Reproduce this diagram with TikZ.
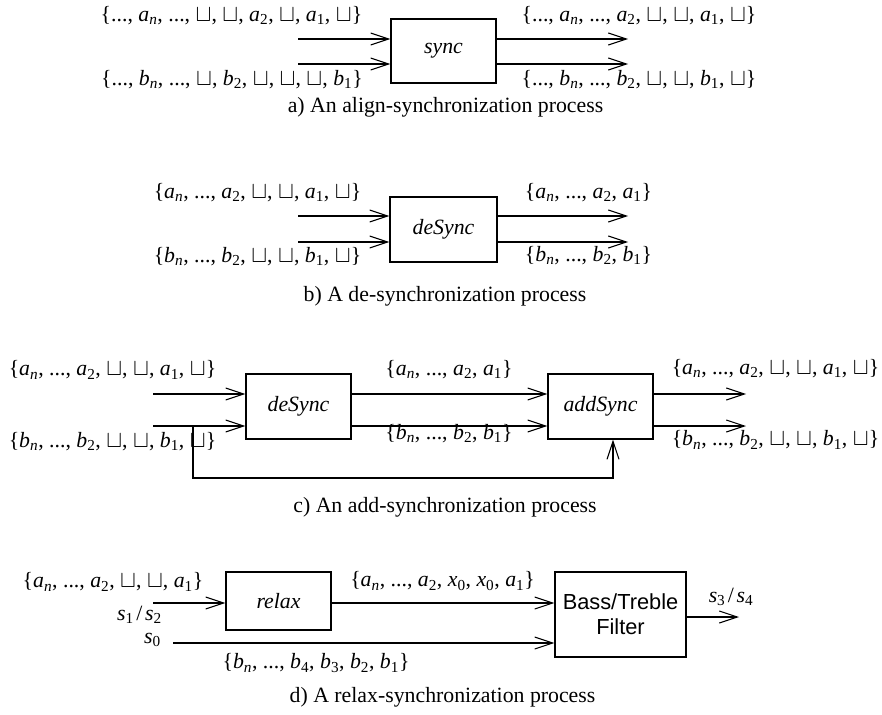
\documentclass[tikz,border=0pt]{standalone}
\usepackage{fontspec}
\setmainfont{Liberation Serif}
\newfontfamily\sansf{Liberation Sans}
\usetikzlibrary{arrows.meta}

% variable with subscript, comma with thin space, empty slot, slash
\newcommand\vv[2]{\textit{#1}\textsubscript{#2}}
\newcommand\vn[1]{\textit{#1}\textsubscript{\textit{n}}}
\newcommand\cc{,\kern0.25em}
\newcommand\sq{\scalebox{1.15}{$\sqcup$}}
\newcommand\slsh{\kern0.12em/\kern0.12em}

\begin{document}
\begin{tikzpicture}[x=1pt,y=-1pt,
  every node/.append style={font=\fontsize{21.8pt}{25pt}\selectfont},
  lbl/.style={inner sep=0pt,anchor=center},
  blk/.style={draw,line width=1.1pt,inner sep=0pt},
  arr/.style={line width=1.1pt,-{Straight Barb[length=18pt,width=12pt,line width=1.1pt]}},
  ln/.style={line width=1.1pt}]
\useasboundingbox (0,0) rectangle (882,714);

% ---------- a) align-synchronization ----------
\node[blk,minimum width=105pt,minimum height=64pt] (sync) at (443.5,51) {\textit{sync}};
\coordinate (ain1) at (298,39);
\coordinate (ain2) at (298,64);
\coordinate (aout1) at (628,39);
\coordinate (aout2) at (628,64);
\draw[arr] (ain1) -- (ain1 -| sync.west);
\draw[arr] (ain2) -- (ain2 -| sync.west);
\draw[arr] (aout1 -| sync.east) -- (aout1);
\draw[arr] (aout2 -| sync.east) -- (aout2);
\node[lbl] (la1) at (231.5,15.5) {\{...\cc\vn a\cc...\cc\sq\cc\sq\cc\vv a2\cc\sq\cc\vv a1\cc\sq\}};
\node[lbl] (la2) at (232,79.5) {\{...\cc\vn b\cc...\cc\sq\cc\vv b2\cc\sq\cc\sq\cc\sq\cc\vv b1\}};
\node[lbl] (la3) at (639,15.5) {\{...\cc\vn a\cc...\cc\vv a2\cc\sq\cc\sq\cc\vv a1\cc\sq\}};
\node[lbl] (la4) at (639,80) {\{...\cc\vn b\cc...\cc\vv b2\cc\sq\cc\sq\cc\vv b1\cc\sq\}};
\node[lbl] (capa) at (445.5,107) {a) An align-synchronization process};

% ---------- b) de-synchronization ----------
\node[blk,minimum width=107pt,minimum height=65pt] (dsb) at (443.5,229.5) {\textit{deSync}};
\coordinate (bin1) at (298,216);
\coordinate (bin2) at (298,242);
\coordinate (bout1) at (628,216);
\coordinate (bout2) at (628,242);
\draw[arr] (bin1) -- (bin1 -| dsb.west);
\draw[arr] (bin2) -- (bin2 -| dsb.west);
\draw[arr] (bout1 -| dsb.east) -- (bout1);
\draw[arr] (bout2 -| dsb.east) -- (bout2);
\node[lbl] (lb1) at (257.5,192.5) {\{\vn a\cc...\cc\vv a2\cc\sq\cc\sq\cc\vv a1\cc\sq\}};
\node[lbl] (lb2) at (257.5,256.5) {\{\vn b\cc...\cc\vv b2\cc\sq\cc\sq\cc\vv b1\cc\sq\}};
\node[lbl] (lb3) at (588.5,192.5) {\{\vn a\cc...\cc\vv a2\cc\vv a1\}};
\node[lbl] (lb4) at (588.5,256) {\{\vn b\cc...\cc\vv b2\cc\vv b1\}};
\node[lbl] (capb) at (445,296) {b) A de-synchronization process};

% ---------- c) add-synchronization ----------
\node[blk,minimum width=105pt,minimum height=65pt] (dsc) at (298.5,406.5) {\textit{deSync}};
\node[blk,minimum width=105pt,minimum height=65pt] (adc) at (600.5,406.5) {\textit{addSync}};
\coordinate (cin1) at (153,394);
\coordinate (cin2) at (153,426);
\coordinate (cout1) at (746,394);
\coordinate (cout2) at (746,426);
\coordinate (ctap) at (193,426);
\coordinate (cbot) at (193,478);
\draw[arr] (cin1) -- (cin1 -| dsc.west);
\draw[arr] (cin2) -- (cin2 -| dsc.west);
\draw[arr] (cin1 -| dsc.east) -- (cin1 -| adc.west);
\draw[arr] (cin2 -| dsc.east) -- (cin2 -| adc.west);
\draw[arr] (cout1 -| adc.east) -- (cout1);
\draw[arr] (cout2 -| adc.east) -- (cout2);
\draw[arr] (ctap) -- (cbot) -- (cbot -| 613,0) -- (613,0 |- adc.south);
\node[lbl] (lc1) at (112.5,370) {\{\vn a\cc...\cc\vv a2\cc\sq\cc\sq\cc\vv a1\cc\sq\}};
\node[lbl] (lc2) at (112.5,441.5) {\{\vn b\cc...\cc\vv b2\cc\sq\cc\sq\cc\vv b1\cc\sq\}};
\node[lbl] (lc3) at (449,369.5) {\{\vn a\cc...\cc\vv a2\cc\vv a1\}};
\node[lbl] (lc4) at (449,433.5) {\{\vn b\cc...\cc\vv b2\cc\vv b1\}};
\node[lbl] (lc5) at (775.5,368.5) {\{\vn a\cc...\cc\vv a2\cc\sq\cc\sq\cc\vv a1\cc\sq\}};
\node[lbl] (lc6) at (775.5,440) {\{\vn b\cc...\cc\vv b2\cc\sq\cc\sq\cc\vv b1\cc\sq\}};
\node[lbl] (capc) at (445,507) {c) An add-synchronization process};

% ---------- d) relax-synchronization ----------
\node[blk,minimum width=105pt,minimum height=58pt] (rlx) at (278.5,601) {\textit{relax}};
\node[blk,minimum width=131pt,minimum height=85pt,align=center,font=\sansf\fontsize{21.8pt}{25pt}\selectfont] (flt) at (620.5,614.5) {Bass/Treble\\Filter};
\coordinate (din) at (153,603);
\coordinate (dzero) at (173,643);
\coordinate (dout) at (739,617);
\draw[arr] (din) -- (din -| rlx.west);
\draw[arr] (din -| rlx.east) -- (din -| flt.west);
\draw[arr] (dzero) -- (dzero -| flt.west);
\draw[arr] (dout -| flt.east) -- (dout);
\node[lbl] (ld1) at (113,582) {\{\vn a\cc...\cc\vv a2\cc\sq\cc\sq\cc\vv a1\}};
\node[lbl] (ld2) at (139.5,615) {\vv s1\slsh\vv s2};
\node[lbl] (ld3) at (152.5,640) {\vv s0};
\node[lbl] (ld4) at (442.5,581) {\{\vn a\cc...\cc\vv a2\cc\vv x0\cc\vv x0\cc\vv a1\}};
\node[lbl] (ld5) at (316,663) {\{\vn b\cc...\cc\vv b4\cc\vv b3\cc\vv b2\cc\vv b1\}};
\node[lbl] (ld6) at (731,597) {\vv s3\slsh\vv s4};
\node[lbl] (capd) at (442.5,697) {d) A relax-synchronization process};
\end{tikzpicture}
\end{document}
